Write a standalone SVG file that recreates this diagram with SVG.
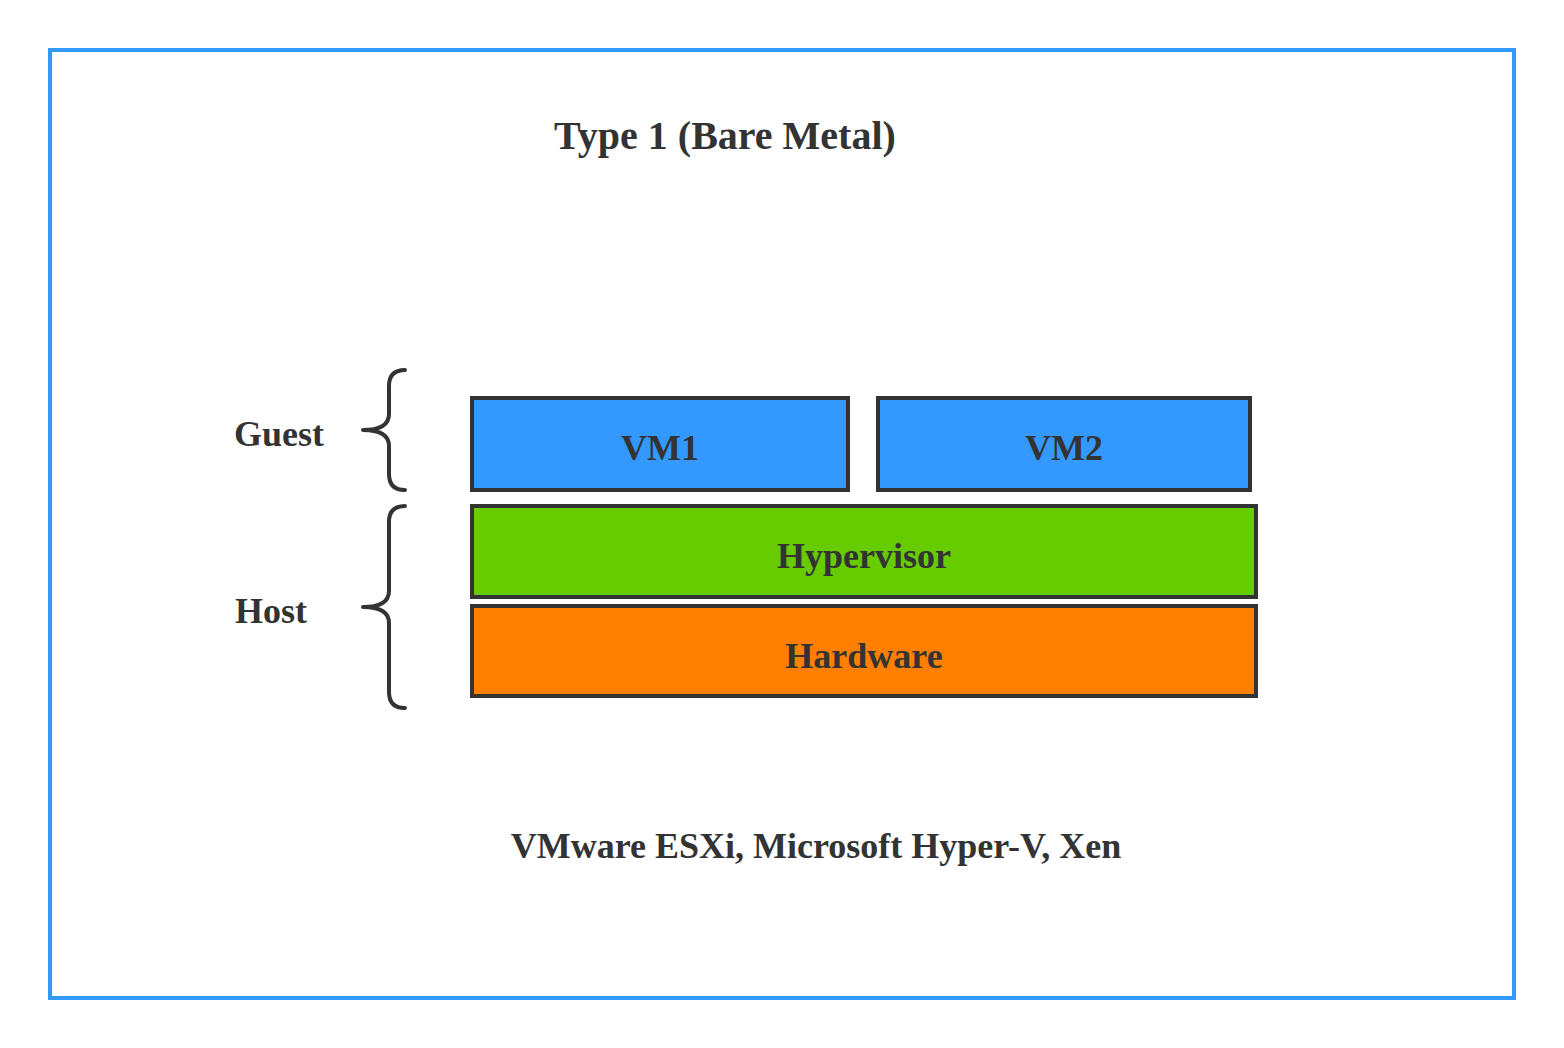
<svg xmlns="http://www.w3.org/2000/svg" width="1564" height="1048" viewBox="0 0 1564 1048">
<style>
text{font-family:"Liberation Serif","Times New Roman",serif;font-weight:bold;fill:#333333}
.box{stroke:#333333;stroke-width:4}
.brace{fill:none;stroke:#333333;stroke-width:4;stroke-linecap:round;stroke-linejoin:round}
.lbl{font-size:36px;text-anchor:middle}
</style>
<rect x="0" y="0" width="1564" height="1048" fill="#ffffff"/>
<rect id="frame" x="50" y="50" width="1464" height="948" fill="none" stroke="#3399ff" stroke-width="4"/>
<text id="title" x="725" y="149" font-size="40" text-anchor="middle">Type 1 (Bare Metal)</text>
<g id="vm1"><rect class="box" x="472" y="398" width="376" height="92" fill="#3399ff"/><text class="lbl" x="660" y="460">VM1</text></g>
<g id="vm2"><rect class="box" x="878" y="398" width="372" height="92" fill="#3399ff"/><text class="lbl" x="1064" y="460">VM2</text></g>
<g id="hypervisor"><rect class="box" x="472" y="506" width="784" height="91" fill="#66cc00"/><text class="lbl" x="864" y="568">Hypervisor</text></g>
<g id="hardware"><rect class="box" x="472" y="606" width="784" height="90" fill="#ff8000"/><text class="lbl" x="864" y="668">Hardware</text></g>
<g id="guest-label"><path class="brace" d="M405,370 Q389,370 389,386 L389,414 Q389,430 363,430 Q389,430 389,446 L389,474 Q389,490 405,490"/><text x="234" y="446" font-size="36">Guest</text></g>
<g id="host-label"><path class="brace" d="M405,506 Q389,506 389,522 L389,591 Q389,607 363,607 Q389,607 389,623 L389,692 Q389,708 405,708"/><text x="235" y="623" font-size="36">Host</text></g>
<g id="connectors"></g>
<text id="examples" x="816" y="858" font-size="36" text-anchor="middle">VMware ESXi, Microsoft Hyper-V, Xen</text>
</svg>
